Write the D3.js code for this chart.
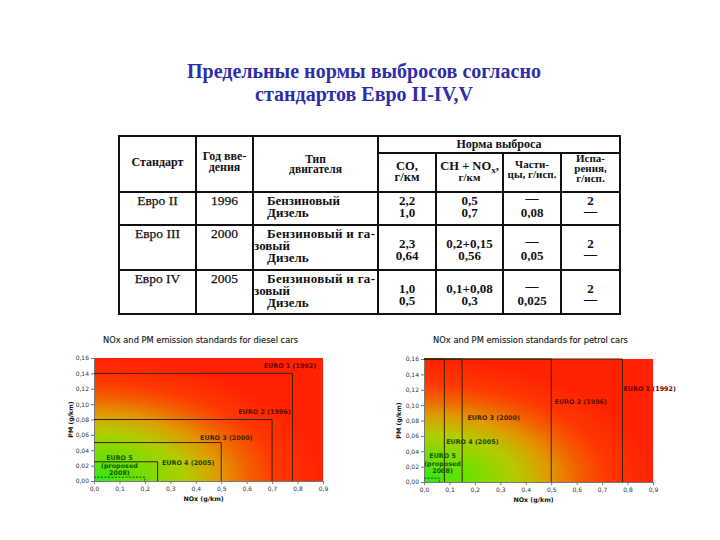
<!DOCTYPE html>
<html>
<head>
<meta charset="utf-8" />
<title>Нормы выбросов Евро</title>
<script src="https://cdn.jsdelivr.net/npm/d3@7"></script>
<style>
body { margin: 0; background: #fff; }
</style>
</head>
<body>
<svg id="slide"></svg>
<script>
/* data */
var titleLines = ["Предельные нормы выбросов согласно", "стандартов Евро II-IV,V"];

var standards = ["Евро II", "Евро III", "Евро IV"];
var years = ["1996", "2000", "2005"];
var petrolEngine = ["Бензиновый", "Бензиновый и га-", "Бензиновый и га-"];
var dieselEngine = "Дизель";
var coValues = [["2,2", "1,0"], ["2,3", "0,64"], ["1,0", "0,5"]];
var chNoxValues = [["0,5", "0,7"], ["0,2+0,15", "0,56"], ["0,1+0,08", "0,3"]];
var particleValues = [["—", "0,08"], ["—", "0,05"], ["—", "0,025"]];
var evapValues = [["2", "—"], ["2", "—"], ["2", "—"]];

var euroLabels = ["EURO 1 (1992)", "EURO 2 (1996)", "EURO 3 (2000)", "EURO 4 (2005)"];
var euro5Label = ["EURO 5", "(proposed", "2008)"];
var dieselNox = [0.78, 0.70, 0.50, 0.25];
var dieselPm = [0.14, 0.08, 0.05, 0.025];
var dieselEuro5 = [0.20, 0.005];
var petrolNox = [0.78, 0.50, 0.15, 0.08];
var petrolEuro5 = [0.06, 0.005];
var noxTicks = [0, 0.1, 0.2, 0.3, 0.4, 0.5, 0.6, 0.7, 0.8, 0.9];
var pmTicks = [0, 0.02, 0.04, 0.06, 0.08, 0.10, 0.12, 0.14, 0.16];

// where the labels sit, in (NOx, PM) units
var dieselLabelAt = [[0.77, 0.150], [0.67, 0.090], [0.52, 0.056], [0.37, 0.024]];
var dieselEuro5At = [0.10, 0.020];
var petrolLabelAt = [[0.887, 0.121], [0.616, 0.105], [0.274, 0.083], [0.19, 0.053]];
var petrolEuro5At = [0.073, 0.024];
var labelColors = ["#6a0000", "#5e1000", "#442600", "#1a4a00"];
var euro5Color = "#175a00";

var svg = d3.select("#slide").attr("width", 720).attr("height", 540);

/* title */
svg.append("text")
	.attr("x", 364).attr("y", 78)
	.attr("text-anchor", "middle")
	.style("font", "bold 20px 'Liberation Serif', serif")
	.style("fill", "#2e2eaa")
	.selectAll("tspan")
	.data(titleLines)
	.enter().append("tspan")
		.attr("x", 364)
		.attr("dy", function(d, i) { return i ? 23 : 0; })
		.text(function(d) { return d; });

/* table */
var serif = "'Liberation Serif', 'DejaVu Serif', serif";
var colX = [119, 196, 253, 378, 436, 503, 561, 620];
var rowY = [136, 192, 225, 270, 314];
var table = svg.append("g");

// one text element, several lines: lines = [[string, dy], ...]
function txt(x, y, lines, size, bold, anchor) {
	var t = table.append("text")
		.attr("x", x).attr("y", y)
		.attr("text-anchor", anchor || "middle")
		.style("font-family", serif)
		.style("font-size", size + "px")
		.style("font-weight", bold ? "bold" : "normal")
		.style("fill", "#111");
	if (typeof lines === "string") { t.text(lines); return t; }
	lines.forEach(function(l, k) {
		t.append("tspan").attr("x", l[2] !== undefined ? l[2] : x).attr("dy", k ? l[1] : 0).text(l[0]);
	});
	return t;
}
function mid(c) { return (colX[c] + colX[c + 1]) / 2; }

function line(x1, y1, x2, y2) {
	table.append("line")
		.attr("x1", x1).attr("y1", y1).attr("x2", x2).attr("y2", y2)
		.style("stroke", "#111").style("stroke-width", 2);
}
table.append("rect")
	.attr("x", colX[0]).attr("y", rowY[0])
	.attr("width", colX[7] - colX[0]).attr("height", rowY[4] - rowY[0])
	.style("fill", "none").style("stroke", "#111").style("stroke-width", 2);
line(colX[1], rowY[0], colX[1], rowY[4]);
line(colX[2], rowY[0], colX[2], rowY[4]);
line(colX[3], rowY[0], colX[3], rowY[4]);
[4, 5, 6].forEach(function(c) { line(colX[c], 153, colX[c], rowY[4]); });
line(colX[3], 153, colX[7], 153);
[1, 2, 3].forEach(function(r) { line(colX[0], rowY[r], colX[7], rowY[r]); });

// header
txt(mid(0), 166, "Стандарт", 12, true);
txt(mid(1), 160, [["Год вве-"], ["дения", 11]], 12, true);
txt(mid(2), 163, [["Тип"], ["двигателя", 10]], 11.5, true);
txt((colX[3] + colX[7]) / 2, 148, "Норма выброса", 12, true);
txt(mid(3), 170, [["CO,"], ["г/км", 11]], 12.5, true);
var chn = txt(mid(4), 170, "", 12.5, true);
chn.append("tspan").text("CH + NO");
chn.append("tspan").attr("dy", 3).style("font-size", "9px").text("x");
chn.append("tspan").attr("dy", -3).text(",");
chn.append("tspan").attr("x", mid(4)).attr("dy", 11).style("font-size", "11px").text("г/км");
txt(mid(5), 168, [["Части-"], ["цы, г/исп.", 10]], 11, true);
txt(mid(6), 162, [["Испа-"], ["рения,", 10], ["г/исп.", 10]], 11, true);

// body rows
standards.forEach(function(s, i) {
	var top = rowY[i + 1];
	txt(mid(0), top + 13, s, 13.5, false).style("stroke", "#111").style("stroke-width", 0.25);
	txt(mid(1), top + 13, years[i], 13.5, false).style("stroke", "#111").style("stroke-width", 0.25);
	var a;
	if (i === 0) {
		txt(267, top + 13, [[petrolEngine[i]], [dieselEngine, 12]], 13, true, "start");
		a = top + 13;
	} else {
		txt(267, top + 13, petrolEngine[i], 13, true, "start")
			.attr("textLength", 108).attr("lengthAdjust", "spacing");
		txt(254, top + 25, [["зовый"], [dieselEngine, 12, 267]], 13, true, "start");
		a = top + 23;
	}
	[coValues, chNoxValues, particleValues, evapValues].forEach(function(vals, k) {
		var v = vals[i];
		var up = v[0] === "—" ? 3 : 0;
		txt(mid(k + 3), a - up, [[v[0]], [v[1], 12 + up - (v[1] === "—" ? 2 : 0)]], 13, true);
	});
});

/* charts */
var loc = d3.formatLocale({decimal: ",", thousands: " ", grouping: [3], currency: ["", ""]});
var sans = "'DejaVu Sans', sans-serif";

var defs = svg.append("defs");
var grad = defs.append("radialGradient")
	.attr("id", "heat")
	.attr("cx", 0).attr("cy", 1).attr("fx", 0).attr("fy", 1).attr("r", 1);
[[0, "#2ee81a"], [0.2, "#6ee000"], [0.4, "#b2cc00"], [0.55, "#e09a00"],
 [0.68, "#f26000"], [0.8, "#ff3800"], [1, "#ff2200"]].forEach(function(s) {
	grad.append("stop").attr("offset", s[0]).attr("stop-color", s[1]);
});

function drawChart(o) {
	var g = svg.append("g");
	var x = d3.scaleLinear().domain([0, 0.9]).range([o.left, o.right]);
	var y = d3.scaleLinear().domain([0, 0.16]).range([o.bottom, o.top]);

	g.append("text")
		.attr("x", (o.left + o.right) / 2 - 8).attr("y", 343)
		.attr("text-anchor", "middle")
		.style("font", "8.3px " + sans).style("fill", "#1a1a1a")
		.style("stroke", "#1a1a1a").style("stroke-width", 0.15)
		.text(o.title);

	g.append("rect")
		.attr("x", x(0)).attr("y", y(0.16))
		.attr("width", x(0.9) - x(0)).attr("height", y(0) - y(0.16))
		.style("fill", "url(#heat)");

	var ya = g.append("g")
		.attr("transform", "translate(" + x(0) + ",0)")
		.call(d3.axisLeft(y).tickValues(pmTicks).tickSize(3).tickPadding(2).tickFormat(loc.format(".2f")));
	var xa = g.append("g")
		.attr("transform", "translate(0," + y(0) + ")")
		.call(d3.axisBottom(x).tickValues(noxTicks).tickSize(3).tickPadding(3).tickFormat(loc.format(".1f")));
	[ya, xa].forEach(function(a) {
		a.select(".domain").style("stroke", "#777");
		a.selectAll(".tick line").style("stroke", "#777");
		a.selectAll("text").style("font", "6px " + sans).style("fill", "#333");
	});

	g.append("text")
		.attr("transform", "translate(" + o.ytitleX + "," + (o.top + o.bottom) / 2 + ") rotate(-90)")
		.attr("text-anchor", "middle")
		.style("font", "bold 6.3px " + sans).style("fill", "#111")
		.text("PM (g/km)");
	g.append("text")
		.attr("x", (o.left + o.right) / 2 - 5).attr("y", o.bottom + 20)
		.attr("text-anchor", "middle")
		.style("font", "bold 6.3px " + sans).style("fill", "#111")
		.text("NOx (g/km)");

	// limit boxes
	o.nox.forEach(function(n, i) {
		var pm = o.pm ? o.pm[i] : 0.16;
		g.append("path")
			.attr("d", "M" + x(0) + "," + y(pm) + "H" + x(n) + "V" + y(0))
			.style("fill", "none").style("stroke", "#3a2200").style("stroke-width", 1);
	});
	g.append("path")
		.attr("d", "M" + x(0) + "," + y(o.euro5[1]) + "H" + x(o.euro5[0]) + "V" + y(0))
		.style("fill", "none").style("stroke", euro5Color)
		.style("stroke-width", 1).style("stroke-dasharray", "2,1.5");

	euroLabels.forEach(function(l, i) {
		g.append("text")
			.attr("x", x(o.labelAt[i][0])).attr("y", y(o.labelAt[i][1]) + 2.3)
			.attr("text-anchor", "middle")
			.style("font", "bold 6.4px " + sans).style("fill", labelColors[i])
			.text(l);
	});
	g.append("text")
		.attr("x", x(o.euro5At[0])).attr("y", y(o.euro5At[1]) + 2.3 - 7.5)
		.attr("text-anchor", "middle")
		.style("font", "bold 6.4px " + sans).style("fill", euro5Color)
		.selectAll("tspan")
		.data(euro5Label)
		.enter().append("tspan")
			.attr("x", x(o.euro5At[0]))
			.attr("dy", function(d, k) { return k ? 7.5 : 0; })
			.text(function(d) { return d; });
}

drawChart({
	title: "NOx and PM emission standards for diesel cars",
	left: 94, right: 323, top: 358, bottom: 481, ytitleX: 73,
	nox: dieselNox, pm: dieselPm, euro5: dieselEuro5,
	labelAt: dieselLabelAt, euro5At: dieselEuro5At
});
drawChart({
	title: "NOx and PM emission standards for petrol cars",
	left: 424, right: 653, top: 359, bottom: 482, ytitleX: 401,
	nox: petrolNox, pm: null, euro5: petrolEuro5,
	labelAt: petrolLabelAt, euro5At: petrolEuro5At
});
</script>
</body>
</html>
